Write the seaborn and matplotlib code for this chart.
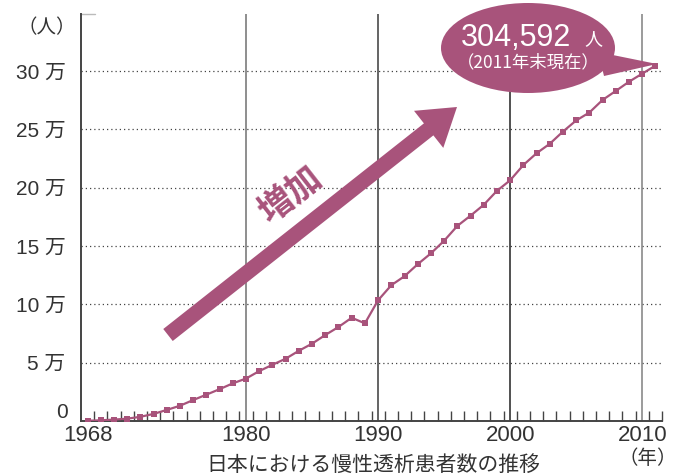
import numpy as np
import pandas as pd
import matplotlib
matplotlib.use("Agg")
import matplotlib.pyplot as plt
import seaborn as sns
from matplotlib.patches import Ellipse, Polygon

# ---- data ----
years = list(range(1968, 2012))
patients = [215, 600, 1200, 2000, 3600, 6100, 9500, 13100, 18000, 22600,
            27300, 32300, 36400, 42800, 48200, 53400, 60200, 66300, 73700, 80600,
            88500, 83700, 103500, 116400, 124100, 134400, 143700, 154500, 167200, 176000,
            185300, 197300, 206300, 219400, 229500, 237600, 248100, 257600, 264400, 275200,
            282900, 290800, 297700, 304592]
ytick_vals = [50000, 100000, 150000, 200000, 250000, 300000]
ytick_labels = ["5 万", "10 万", "15 万", "20 万", "25 万", "30 万"]
xtick_vals = [1968, 1980, 1990, 2000, 2010]
xtick_labels = ["1968", "1980", "1990", "2000", "2010"]
decade_lines = [1980, 1990, 2000, 2010]
decade_colors = ["#707070", "#3a3a3a", "#222222", "#808080"]
title = "日本における慢性透析患者数の推移"

df = pd.DataFrame({"year": years, "patients": patients})

sns.set_theme(style="white")
plt.rcParams["font.family"] = ["Noto Sans CJK JP", "DejaVu Sans"]

MAG = "#a8537b"
GRAY = "#333333"
W, H = 683, 476
fig = plt.figure(figsize=(W / 100, H / 100), dpi=100)
L, R, B, T = 81, 662, 421, 14
ax = fig.add_axes([L / W, (H - B) / H, (R - L) / W, (B - T) / H])
XMIN, XMAX = 1967.5, 2011.5
YMAX = (B - T) / 350 * 300000
ax.set_xlim(XMIN, XMAX)
ax.set_ylim(0, YMAX)

def px(xp, yp):
    """pixel -> data coordinates (for annotations)"""
    return (XMIN + (xp - L) / (R - L) * (XMAX - XMIN), (B - yp) / (B - T) * YMAX)

# grid lines
for yv in ytick_vals:
    ax.axhline(yv, color="#444444", lw=0.9, ls=(0, (1.0, 2.4)), zorder=1)
for xv, c in zip(decade_lines, decade_colors):
    ax.axvline(xv, color=c, lw=1.1, zorder=1)

# arrow
tail = px(168, 335)
tip = px(457, 107)
ax.annotate("", xy=tip, xytext=tail,
            arrowprops=dict(arrowstyle="simple,head_length=26,head_width=34,tail_width=11",
                            mutation_scale=1, color=MAG, lw=0, shrinkA=0, shrinkB=0),
            zorder=3)
tx, ty = px(290, 194)
ax.text(tx, ty, "増加", color=MAG, fontsize=25, fontweight="bold", rotation=38,
        ha="center", va="center", rotation_mode="anchor", zorder=4)

# line
sns.lineplot(data=df, x="year", y="patients", ax=ax, color=MAG, lw=1.6,
             marker="s", markersize=4.5, markeredgewidth=0, zorder=5)

# callout
cx, cy = px(528, 48)
x0, _ = px(441, 48)
x1, _ = px(615, 48)
_, y0 = px(528, 93)
_, y1 = px(528, 3)
ell = Ellipse((cx, cy), x1 - x0, y1 - y0, color=MAG, lw=0, clip_on=False, zorder=6)
ax.add_patch(ell)
poly = Polygon([px(598, 52), px(604, 76), px(657, 64)], closed=True, color=MAG,
               lw=0, clip_on=False, zorder=6)
ax.add_patch(poly)
ax.text(*px(516, 38), "304,592", color="white", fontsize=22, ha="center", va="center",
        family=["Liberation Sans", "DejaVu Sans"], zorder=7)
ax.text(*px(593, 39), "人", color="white", fontsize=13, ha="center", va="center", zorder=7)
ax.text(*px(528, 62), "（2011年末現在）", color="white", fontsize=12.5, ha="center",
        va="center", zorder=7)

# axes styling
for s in ["top", "right"]:
    ax.spines[s].set_visible(False)
for s in ["left", "bottom"]:
    ax.spines[s].set_color("#444444")
    ax.spines[s].set_linewidth(1.4)

ax.set_yticks(ytick_vals)
ax.set_yticklabels(ytick_labels)
ax.tick_params(axis="y", direction="in", length=10, width=1.2, color="#444444",
               pad=11, labelsize=15, labelcolor=GRAY)
ax.set_xticks(xtick_vals)
ax.set_xticklabels(xtick_labels, family=["Liberation Sans", "DejaVu Sans"])
ax.set_xticks(np.arange(1968.5, 2012, 1.0), minor=True)
ax.tick_params(axis="x", which="major", length=0, pad=3, labelsize=16, labelcolor=GRAY)
ax.tick_params(axis="x", which="minor", direction="in", length=7, width=1.0,
               color="#444444", bottom=True)
for lab in ax.get_yticklabels():
    lab.set_family(["Liberation Sans", "Noto Sans CJK JP"])
ax.set_xlabel("")
ax.set_ylabel("")

ax.plot([0, 14 / (R - L)], [1, 1], transform=ax.transAxes, color="#bbbbbb",
        lw=1, clip_on=False)

fig.text(68 / W, 1 - 413 / H, "0", ha="right", va="center", fontsize=15, color=GRAY,
         family=["Liberation Sans", "DejaVu Sans"])
fig.text(76 / W, 1 - 28 / H, "（人）", ha="right", va="center", fontsize=14, color=GRAY)
fig.text(648 / W, 1 - 458 / H, "（年）", ha="center", va="center", fontsize=14, color=GRAY)
fig.text(373 / W, 1 - 465 / H, title, ha="center", va="center", fontsize=15, color=GRAY)

fig.savefig("out.png", dpi=100)
